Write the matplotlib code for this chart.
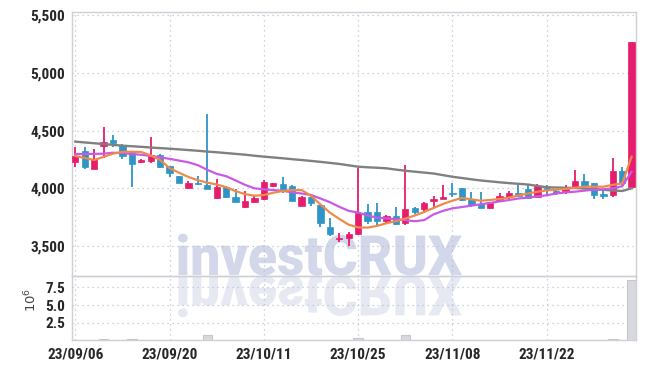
import matplotlib
matplotlib.use('Agg')
import matplotlib.pyplot as plt
from matplotlib.textpath import TextPath
from matplotlib.patches import PathPatch
from matplotlib.font_manager import FontProperties
from matplotlib.transforms import Affine2D
import numpy as np

# ---------------- data ----------------
dates = ['23/09/06', '23/09/07', '23/09/08', '23/09/11', '23/09/12', '23/09/13', '23/09/14', '23/09/15',
         '23/09/18', '23/09/19', '23/09/20', '23/09/21', '23/09/22', '23/09/25', '23/09/26', '23/09/27',
         '23/10/04', '23/10/05', '23/10/06', '23/10/10', '23/10/11', '23/10/12', '23/10/13', '23/10/16',
         '23/10/17', '23/10/18', '23/10/19', '23/10/20', '23/10/23', '23/10/24', '23/10/25', '23/10/26',
         '23/10/27', '23/10/30', '23/10/31', '23/11/01', '23/11/02', '23/11/03', '23/11/06', '23/11/07',
         '23/11/08', '23/11/09', '23/11/10', '23/11/13', '23/11/14', '23/11/15', '23/11/16', '23/11/17',
         '23/11/20', '23/11/21', '23/11/22', '23/11/23', '23/11/24', '23/11/27', '23/11/28', '23/11/29',
         '23/11/30', '23/12/01', '23/12/04', '23/12/05']

opens = [4230, 4323, 4170, 4369, 4419, 4375, 4312, 4228, 4239, 4289,
         4193, 4107, 4005, 4049, 4029, 3919, 4014, 3922, 3835, 3884,
         3905, 4020, 4037, 4020, 3849, 3927, 3855, 3667, 3558, 3567,
         3601, 3795, 3795, 3719, 3760, 3697, 3827, 3823, 3893, 3910,
         3962, 4005, 3905, 3861, 3832, 3893, 3927, 3962, 3994, 3927,
         4003, 3979, 3974, 4000, 4063, 4043, 3951, 3945, 4150, 4014]
highs = [4355, 4360, 4343, 4529, 4462, 4384, 4320, 4251, 4447, 4295,
         4193, 4110, 4063, 4107, 4644, 4083, 4020, 3991, 3979, 3935,
         4075, 4050, 4095, 4025, 3935, 3933, 3855, 3740, 3610, 3624,
         4173, 3864, 3870, 3770, 3835, 4202, 3841, 3884, 3933, 4029,
         4049, 4005, 3971, 3971, 3885, 3957, 3979, 4029, 4029, 4035,
         4029, 3991, 4029, 4159, 4124, 4043, 3979, 4260, 4187, 5265]
lows = [4187, 4170, 4170, 4260, 4355, 4251, 4009, 4217, 4217, 4180,
        4095, 4045, 3991, 4029, 3991, 3905, 3918, 3884, 3827, 3870,
        3900, 4012, 3957, 3893, 3845, 3849, 3667, 3587, 3537, 3500,
        3595, 3690, 3682, 3700, 3682, 3682, 3777, 3783, 3841, 3905,
        3927, 3890, 3835, 3832, 3825, 3893, 3907, 3922, 3905, 3922,
        3942, 3942, 3951, 4000, 4000, 3905, 3905, 3922, 4014, 4014]
closes = [4280, 4187, 4251, 4401, 4395, 4283, 4213, 4245, 4289, 4187,
          4130, 4049, 4046, 4037, 3991, 4014, 3922, 3884, 3890, 3919,
          4055, 4043, 3985, 3893, 3927, 3875, 3697, 3604, 3572, 3604,
          3789, 3719, 3719, 3760, 3690, 3818, 3795, 3875, 3910, 3927,
          3948, 3899, 3855, 3832, 3879, 3933, 3962, 3936, 3913, 4020,
          3985, 3962, 3991, 4063, 4020, 3942, 3936, 4150, 4049, 5265]
volumes = [40000, 30000, 50000, 140000, 40000, 30000, 140000, 20000, 30000, 20000,
           30000, 20000, 20000, 30000, 670000, 40000, 30000, 20000, 30000, 20000,
           60000, 20000, 30000, 20000, 30000, 20000, 60000, 50000, 40000, 50000,
           250000, 40000, 30000, 20000, 30000, 670000, 40000, 30000, 20000, 40000,
           30000, 40000, 30000, 20000, 20000, 30000, 20000, 30000, 30000, 40000,
           30000, 20000, 20000, 60000, 30000, 40000, 20000, 140000, 80000, 8500000]

ma_short = [4280, 4262, 4245, 4272, 4300, 4315, 4317, 4314, 4285, 4245,
            4175, 4135, 4098, 4070, 4049, 4033, 4010, 3975, 3950, 3936,
            3942, 3962, 3977, 3985, 3985, 3935, 3860, 3790, 3735, 3685,
            3662, 3660, 3675, 3698, 3715, 3738, 3765, 3795, 3830, 3865,
            3893, 3917, 3905, 3893, 3899, 3908, 3920, 3938, 3955, 3970,
            3982, 3988, 3995, 4005, 4014, 4014, 4014, 4030, 4043, 4274]
ma_mid = [4297, 4297, 4298, 4300, 4308, 4305, 4297, 4290, 4280, 4268,
          4255, 4240, 4225, 4200, 4160, 4125, 4105, 4068, 4030, 4000,
          3991, 3985, 3978, 3966, 3955, 3942, 3912, 3880, 3840, 3805,
          3790, 3765, 3746, 3740, 3733, 3725, 3715, 3725, 3775, 3805,
          3827, 3838, 3850, 3862, 3873, 3887, 3899, 3912, 3920, 3930,
          3940, 3955, 3965, 3971, 3980, 3988, 3991, 4000, 4018, 4144]
ma_long = [4404, 4397, 4390, 4383, 4376, 4369, 4364, 4359, 4353, 4348,
           4343, 4337, 4331, 4325, 4318, 4312, 4305, 4298, 4291, 4282,
           4274, 4267, 4260, 4252, 4245, 4237, 4229, 4220, 4211, 4199,
           4187, 4182, 4178, 4173, 4162, 4152, 4144, 4136, 4128, 4114,
           4100, 4089, 4078, 4068, 4060, 4052, 4045, 4039, 4033, 4021,
           4009, 4007, 4005, 4003, 3998, 3994, 3987, 3981, 3977, 4000]

tick_step = 10

# ---------------- style ----------------
UP = '#e61c6c'
DOWN = '#2e95c6'
TXT = '#262626'
GRID = '#bcc2d4'
SPINE = '#cfcfd6'
FONT = ['Roboto Condensed', 'Liberation Sans Narrow', 'DejaVu Sans']
tick_font = dict(family=FONT, fontweight='bold', fontstretch='condensed', fontsize=11, color=TXT)

W, H = 645, 369
fig = plt.figure(figsize=(W / 100, H / 100), dpi=100)
fig.patch.set_facecolor('white')

L, R = 72, 635.7
PT, PB = 12.3, 275.7
VB = 340.2
ax = fig.add_axes([L / W, 1 - PB / H, (R - L) / W, (PB - PT) / H])
axv = fig.add_axes([L / W, 1 - VB / H, (R - L) / W, (VB - PB) / H], sharex=ax)
for a in (ax, axv):
    a.set_facecolor('none')
    for s in a.spines.values():
        s.set_color(SPINE)
        s.set_linewidth(1.0)
    a.grid(True, linestyle=(0, (1, 3)), color=GRID, linewidth=0.9)
    a.set_axisbelow(True)
    a.tick_params(length=0, colors=TXT)

x = np.arange(len(dates))
o = np.array(opens); c = np.array(closes)
hi = np.array(highs); lo = np.array(lows)
up = c >= o
cols = [UP if u else DOWN for u in up]

ax.vlines(x, lo, hi, colors=cols, linewidth=1.3, zorder=3)
bottom = np.minimum(o, c)
height = np.maximum(np.abs(c - o), 12)
ax.bar(x, height, bottom=bottom, width=0.67, color=cols, edgecolor=cols, linewidth=0.5, zorder=4)

ax.plot(x, ma_long, color='#808080', linewidth=1.7, zorder=5)
ax.plot(x, ma_mid, color='#c85ae6', linewidth=1.6, zorder=5)
ax.plot(x, ma_short, color='#ef8a4c', linewidth=1.6, zorder=5)

ax.set_xlim(-0.35, 59.43)
ax.set_ylim(3244, 5523)
yt = [3500, 4000, 4500, 5000, 5500]
ax.set_yticks(yt)
ax.set_yticklabels([f'{v:,}' for v in yt], **tick_font)
ax.tick_params(axis='y', pad=5)
plt.setp(ax.get_xticklabels(), visible=False)

vol_m = np.array(volumes) / 1e6
axv.bar(x, vol_m, width=1.0, color='#d8d8df', edgecolor='#c6c6ce', linewidth=0.8, zorder=3)
axv.set_ylim(0, 9.17)
axv.set_yticks([2.5, 5.0, 7.5])
axv.set_yticklabels(['2.5', '5.0', '7.5'], **tick_font)
axv.tick_params(axis='y', pad=5)
ticks = x[::tick_step]
axv.set_xticks(ticks)
axv.set_xticklabels([dates[i] for i in ticks], **tick_font)
axv.tick_params(axis='x', pad=5)

fig.text(31 / W, 1 - 300 / H, r'$10^{6}$', rotation=90, ha='center', va='center',
         fontsize=9.5, color='#444444')

# ---------------- watermark ----------------
fp = FontProperties(family=['Roboto', 'DejaVu Sans'], weight='black')
tp = TextPath((0, 0), 'investCRUX', size=10, prop=fp)
cap = TextPath((0, 0), 'CRUX', size=10, prop=fp).get_extents()
ext = tp.get_extents()
sx = 284 / ext.width
sy = 40 / cap.ymax
tx = 178 - ext.xmin * sx
base = H - 275
main = PathPatch(tp, facecolor='#d2d8ea', edgecolor='none', zorder=-2,
                 transform=Affine2D().scale(sx, sy).translate(tx, base))
refl = PathPatch(tp, facecolor='#e6e9f2', edgecolor='none', zorder=-2,
                 transform=Affine2D().scale(sx, -sy).translate(tx, base - 1))
fig.add_artist(refl)
fig.add_artist(main)

fig.savefig('out.png', dpi=100, facecolor='white')
